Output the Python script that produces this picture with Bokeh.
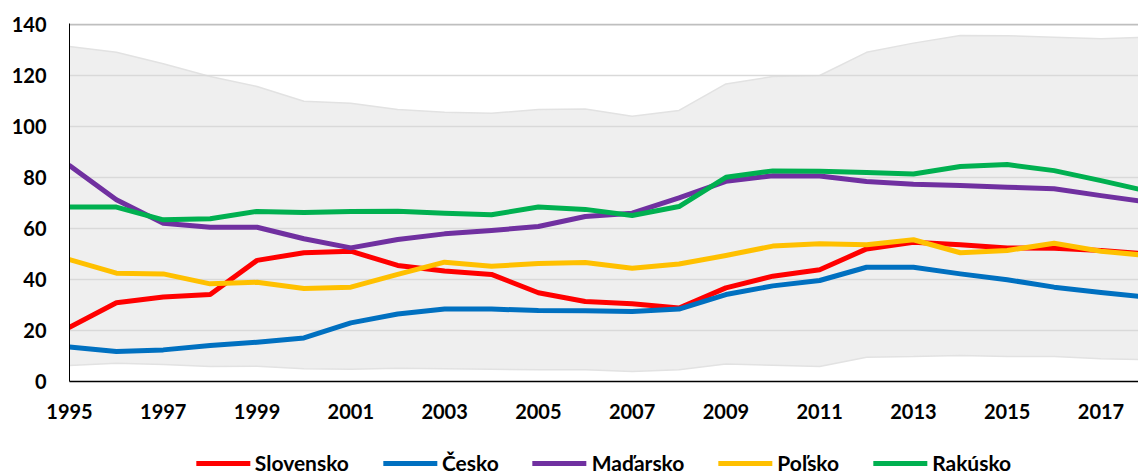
from bokeh.plotting import figure
from bokeh.layouts import column
from bokeh.models import FixedTicker, Legend, LegendItem, Range1d, Grid
from bokeh.embed import file_html
from bokeh.resources import INLINE

years = list(range(1995, 2019))

slovensko = [21.3, 30.9, 33.1, 34.1, 47.5, 50.5, 51.1, 45.5, 43.3, 42.0, 34.8, 31.4,
             30.5, 28.8, 36.7, 41.3, 43.8, 52.0, 54.6, 53.6, 52.4, 52.3, 51.4, 50.0]
cesko = [13.5, 11.8, 12.4, 14.1, 15.4, 17.1, 23.0, 26.5, 28.4, 28.4, 27.8, 27.7,
         27.5, 28.4, 34.1, 37.5, 39.6, 44.8, 44.8, 42.2, 39.9, 37.0, 34.9, 33.0]
madarsko = [84.7, 71.3, 62.1, 60.5, 60.5, 56.0, 52.4, 55.7, 57.9, 59.2, 60.8, 64.7,
            66.0, 72.0, 78.5, 80.7, 80.6, 78.4, 77.4, 76.9, 76.2, 75.6, 72.9, 70.3]
polsko = [47.8, 42.5, 42.2, 38.3, 38.9, 36.5, 37.0, 42.0, 46.8, 45.2, 46.3, 46.7,
          44.4, 46.1, 49.4, 53.1, 54.0, 53.6, 55.6, 50.5, 51.4, 54.2, 51.1, 49.4]
rakusko = [68.4, 68.4, 63.4, 63.8, 66.7, 66.3, 66.7, 66.8, 66.0, 65.4, 68.4, 67.5,
           65.1, 68.6, 80.1, 82.6, 82.5, 82.0, 81.4, 84.3, 85.1, 82.7, 78.8, 74.6]
band_max = [131.4, 129.1, 124.6, 119.6, 115.7, 109.9, 109.1, 106.7, 105.6, 105.2, 106.7, 106.9,
            104.0, 106.3, 116.7, 119.6, 120.0, 129.1, 132.7, 135.7, 135.6, 135.0, 134.4, 135.0]
band_min = [6.3, 7.2, 6.7, 5.9, 6.0, 5.0, 4.8, 5.2, 5.0, 4.8, 4.6, 4.6,
            3.9, 4.6, 6.9, 6.4, 5.9, 9.5, 9.8, 10.2, 9.8, 9.8, 8.9, 8.5]

names = ["Slovensko", "Česko", "Maďarsko", "Poľsko", "Rakúsko"]
series = [slovensko, cesko, madarsko, polsko, rakusko]
colors = ["#FF0000", "#0070C0", "#7030A0", "#FFC000", "#00B050"]

x_ticks = [1995, 1997, 1999, 2001, 2003, 2005, 2007, 2009, 2011, 2013, 2015, 2017]
y_ticks = [0, 20, 40, 60, 80, 100, 120, 140]
grid_ticks = [20, 40, 60, 80, 100, 120]
top_tick = [140]

FONT = "Lato"

p = figure(width=1138, height=430,
           x_range=Range1d(1995, 2017.8), y_range=Range1d(0, 140.4),
           output_backend="svg", toolbar_location=None,
           min_border_left=69, min_border_top=23, min_border_right=0, min_border_bottom=49)
p.outline_line_color = None
p.background_fill_color = "white"

p.varea(x=years, y1=band_min, y2=band_max, fill_color="#EFEFEF", level="image")
p.line(x=years, y=band_max, line_color="#E2E2E2", line_width=1.5, level="image")
p.line(x=years, y=band_min, line_color="#E2E2E2", line_width=1.5, level="image")

for name, vals, col in zip(names, series, colors):
    p.line(x=years, y=vals, line_color=col, line_width=5, line_join="round", line_cap="round")

p.xgrid.visible = False
p.ygrid.ticker = FixedTicker(ticks=grid_ticks)
p.ygrid.grid_line_color = "#D9D9D9"
p.ygrid.grid_line_width = 1.5
top_grid = Grid(dimension=1, ticker=FixedTicker(ticks=top_tick),
                grid_line_color="#BFBFBF", grid_line_width=2)
p.add_layout(top_grid)

for ax in (p.xaxis, p.yaxis):
    ax.major_tick_line_color = None
    ax.minor_tick_line_color = None
    ax.major_tick_out = 0
    ax.major_tick_in = 0
    ax.axis_line_color = "black"
    ax.major_label_text_font = FONT
    ax.major_label_text_font_style = "bold"
    ax.major_label_text_font_size = "20px"
    ax.major_label_text_color = "black"

p.xaxis.ticker = FixedTicker(ticks=x_ticks)
p.yaxis.ticker = FixedTicker(ticks=y_ticks)
p.xaxis.axis_line_width = 1.5
p.yaxis.axis_line_width = 1
p.xaxis.major_label_standoff = 22
p.yaxis.major_label_standoff = 23

# legend strip below the chart (series drawn outside its visible range, only the legend shows)
lg = figure(width=1138, height=45, x_range=Range1d(1995, 2017.8), y_range=Range1d(-2, -1),
            output_backend="svg", toolbar_location=None,
            min_border_left=69, min_border_right=0, min_border_top=0, min_border_bottom=0)
lg.axis.visible = False
lg.grid.visible = False
lg.outline_line_color = None
legend_renderers = [lg.line(x=years, y=vals, line_color=col, line_width=5, line_cap="round")
                    for vals, col in zip(series, colors)]
legend = Legend(items=[LegendItem(label=n, renderers=[r]) for n, r in zip(names, legend_renderers)],
                orientation="horizontal", location="bottom_center",
                glyph_width=54, glyph_height=20, label_standoff=5, spacing=34,
                padding=0, margin=0, border_line_color=None, background_fill_alpha=0,
                label_text_font=FONT, label_text_font_style="bold",
                label_text_font_size="21px", label_text_color="black")
lg.add_layout(legend, "center")

open("out.html", "w").write(file_html(column(p, lg), INLINE))
